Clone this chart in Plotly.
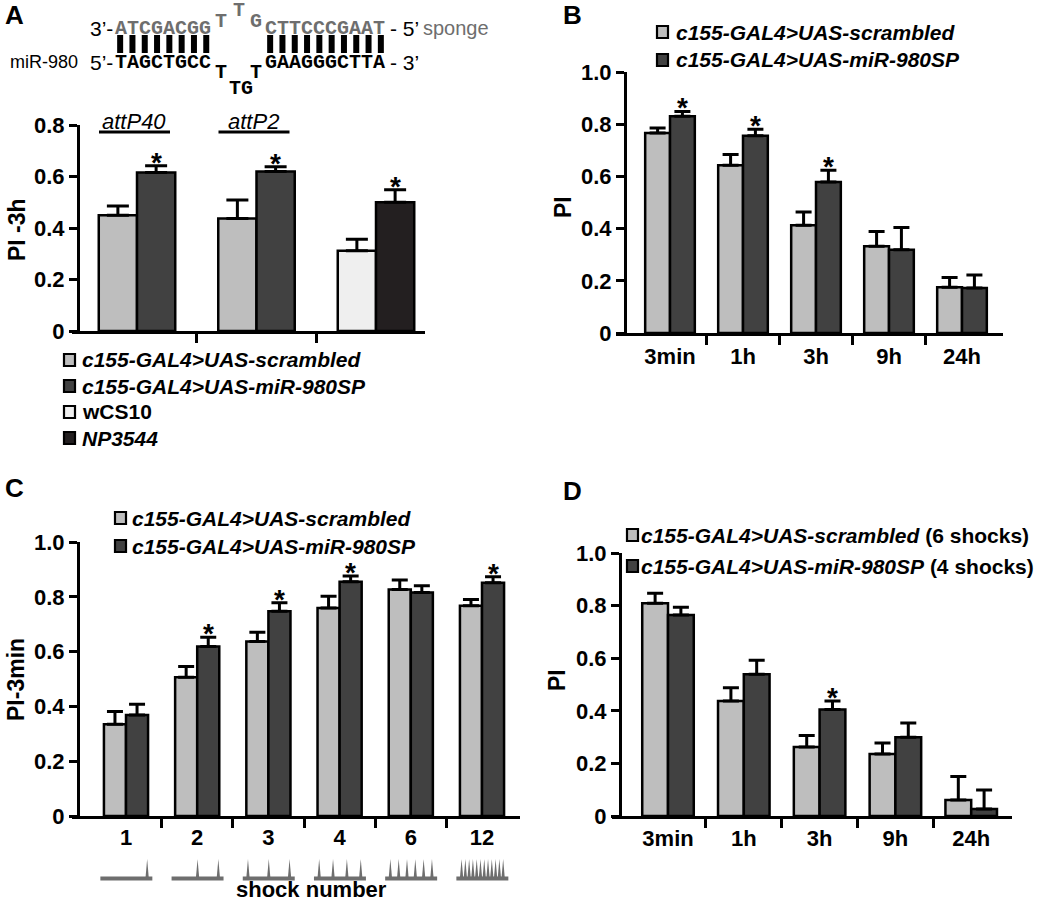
import plotly.graph_objects as go

W, H = 1050, 904
FONT = "Arial, Liberation Sans, Helvetica, sans-serif"
MONO = "Courier New, Liberation Mono, monospace"
LIGHT = "#bebebe"
DARK = "#414141"
WCS_COL = "#efefef"
NP_COL = "#231f20"
SEQ_GRAY = "#6e6e6e"
SHOCK_GRAY = "#6e6e6e"


def px(x):
    return x / W


def py(y):
    return 1 - y / H


# ---------------- data ----------------
# Panel A (PI -3h)
a_groups = ["attP40", "attP2"]
a_scrambled = [0.450, 0.437]
a_scrambled_err = [0.035, 0.072]
a_sponge = [0.616, 0.619]
a_sponge_err = [0.026, 0.019]
a_wcs10 = [0.312]
a_wcs10_err = [0.044]
a_np3544 = [0.500]
a_np3544_err = [0.049]
a_yticks = [0, 0.2, 0.4, 0.6, 0.8]
a_yticklabels = ["0", "0.2", "0.4", "0.6", "0.8"]

# Panel B (PI over time)
b_times = ["3min", "1h", "3h", "9h", "24h"]
b_scrambled = [0.766, 0.643, 0.413, 0.332, 0.175]
b_scrambled_err = [0.019, 0.041, 0.051, 0.057, 0.038]
b_sponge = [0.830, 0.756, 0.579, 0.319, 0.172]
b_sponge_err = [0.019, 0.025, 0.045, 0.085, 0.050]
b_sig = [True, True, True, False, False]

# Panel C (PI-3min vs shock number)
c_shocks = ["1", "2", "3", "4", "6", "12"]
c_scrambled = [0.335, 0.506, 0.637, 0.759, 0.827, 0.767]
c_scrambled_err = [0.046, 0.040, 0.034, 0.043, 0.034, 0.023]
c_sponge = [0.369, 0.619, 0.747, 0.855, 0.816, 0.851]
c_sponge_err = [0.039, 0.033, 0.031, 0.021, 0.024, 0.022]
c_sig = [False, True, True, True, False, True]

# Panel D (PI over time, 6 vs 4 shocks)
d_times = ["3min", "1h", "3h", "9h", "24h"]
d_scrambled = [0.809, 0.437, 0.262, 0.236, 0.061]
d_scrambled_err = [0.038, 0.051, 0.044, 0.042, 0.089]
d_sponge = [0.764, 0.539, 0.405, 0.299, 0.027]
d_sponge_err = [0.030, 0.053, 0.032, 0.055, 0.072]
d_sig = [False, False, True, False, False]

y1_ticks = [0, 0.2, 0.4, 0.6, 0.8, 1.0]
y1_labels = ["0", "0.2", "0.4", "0.6", "0.8", "1.0"]

# ---------------- figure ----------------
fig = go.Figure()
annotations = []
shapes = []


def txt(text, x, y, size, color="black", family=FONT, xanchor="left",
        yanchor="middle", angle=0, xref="paper", yref="paper", yshift=0):
    annotations.append(dict(
        text=text, x=x if xref != "paper" else px(x),
        y=y if yref != "paper" else py(y), xref=xref, yref=yref,
        xanchor=xanchor, yanchor=yanchor, showarrow=False, textangle=angle,
        font=dict(family=family, size=size, color=color), yshift=yshift))


def bars(xs, ys, err, color, w, off, xa, ya, cap):
    fig.add_trace(go.Bar(
        x=xs, y=ys, width=w, offset=off, xaxis=xa, yaxis=ya,
        marker=dict(color=color, line=dict(color="black", width=2.5)),
        error_y=dict(type="data", symmetric=False, array=err,
                     arrayminus=[0] * len(err), color="black",
                     thickness=3, width=cap),
        showlegend=False, hoverinfo="skip"))


def stars(xs, tops, xa, ya):
    for x, t in zip(xs, tops):
        annotations.append(dict(
            text="<b>*</b>", x=x, y=t, xref=xa, yref=ya, xanchor="center",
            yanchor="bottom", showarrow=False, yshift=-14,
            font=dict(family=FONT, size=28, color="black")))


layout_axes = {}


def panel(xa, ya, xl, xr, c0, sp, y0, yt, ymax, ypos, labels, n, yticks, ylabels,
          standoff=0):
    xkey = "xaxis" + xa[1:]
    ykey = "yaxis" + ya[1:]
    layout_axes[xkey] = dict(
        domain=[px(xl), px(xr)], range=[(xl - c0) / sp, (xr - c0) / sp],
        anchor=ya, showline=True, linewidth=3, linecolor="black",
        showgrid=False, zeroline=False, tickmode="array", automargin=False,
        tickvals=list(range(n)), ticktext=labels, ticks="",
        ticklabelstandoff=standoff, fixedrange=True,
        tickfont=dict(family=FONT, size=22, color="black", weight="bold"),
        minor=dict(tickmode="array", tickvals=[i + 0.5 for i in range(n - 1)],
                   ticks="outside", ticklen=9, tickwidth=3, tickcolor="black"))
    layout_axes[ykey] = dict(
        domain=[py(y0), py(yt)], range=[0, ymax], anchor="free", automargin=False,
        position=px(ypos), showline=True, linewidth=3, linecolor="black",
        ticks="outside", ticklen=8, tickwidth=3, tickcolor="black",
        tickmode="array", tickvals=yticks, ticktext=ylabels,
        showgrid=False, zeroline=False, fixedrange=True,
        tickfont=dict(family=FONT, size=22, color="black", weight="bold"))


def legend(xsq, ys, xtext, items, size=21):
    for (label, color), y in zip(items, ys):
        shapes.append(dict(type="rect", xref="paper", yref="paper",
                           x0=px(xsq), x1=px(xsq + 11), y0=py(y + 6), y1=py(y - 6),
                           fillcolor=color, line=dict(color="black", width=2.2)))
        txt(label, xtext, y, size)


# ----- Panel A -----
wA = 0.32
panel("x", "y", 72, 425, 137, 119.5, 331, 125, 0.8, 78, ["", "", ""], 3,
      a_yticks, a_yticklabels)
ia = list(range(len(a_groups)))
bars(ia, a_scrambled, a_scrambled_err, LIGHT, wA, -wA, "x", "y", 11)
bars(ia, a_sponge, a_sponge_err, DARK, wA, 0, "x", "y", 11)
bars([len(a_groups)], a_wcs10, a_wcs10_err, WCS_COL, wA, -wA, "x", "y", 11)
bars([len(a_groups)], a_np3544, a_np3544_err, NP_COL, wA, 0, "x", "y", 11)
stars([i + wA / 2 for i in ia] + [len(a_groups) + wA / 2],
      [v + e for v, e in zip(a_sponge, a_sponge_err)] + [a_np3544[0] + a_np3544_err[0]],
      "x", "y")
for i, g in enumerate(a_groups):
    cx = 137 + 119.5 * i
    txt("<i>%s</i>" % g, cx - 3, 121, 22, xanchor="center")
    shapes.append(dict(type="line", xref="paper", yref="paper",
                       x0=px(cx - 38), x1=px(cx + 33), y0=py(132), y1=py(132),
                       line=dict(color="black", width=3)))
txt("<b>PI -3h</b>", 17, 230, 23, xanchor="center", angle=-90)
legend(64, [360, 386, 412, 438], 80, [
    ("<b><i>c155-GAL4>UAS-scrambled</i></b>", LIGHT),
    ("<b><i>c155-GAL4>UAS-miR-980SP</i></b>", DARK),
    ("<b>wCS10</b>", WCS_COL),
    ("<b><i>NP3544</i></b>", NP_COL)])

# sequence diagram
top_left = "ATCGACGG"
top_right = "CTTCCCGAAT"
bot_left = "TAGCTGCC"
bot_right = "GAAGGGCTTA"
CW = 12.3
txt("3’-", 88, 28, 21)
txt("<b>%s</b>" % top_left, 113, 29, 20, color=SEQ_GRAY, family=MONO)
txt("<b>T</b>", 221, 22, 20, color=SEQ_GRAY, family=MONO, xanchor="center")
txt("<b>T</b>", 239, 11, 20, color=SEQ_GRAY, family=MONO, xanchor="center")
txt("<b>G</b>", 256, 22, 20, color=SEQ_GRAY, family=MONO, xanchor="center")
txt("<b>%s</b>" % top_right, 263, 29, 20, color=SEQ_GRAY, family=MONO)
txt("- 5’", 388, 28, 21)
txt("sponge", 421, 28, 20, color=SEQ_GRAY)
txt("miR-980", 80, 62, 18, xanchor="right")
txt("5’-", 88, 62, 21)
txt("<b>%s</b>" % bot_left, 113, 63, 20, family=MONO)
txt("<b>T</b>", 221, 72, 20, family=MONO, xanchor="center")
txt("<b>TG</b>", 241, 88, 20, family=MONO, xanchor="center")
txt("<b>T</b>", 256, 72, 20, family=MONO, xanchor="center")
txt("<b>%s</b>" % bot_right, 263, 63, 20, family=MONO)
txt("- 3’", 388, 62, 21)
for start, seq in ((114, bot_left), (264, bot_right)):
    for k in range(len(seq)):
        cx = start + CW / 2 + CW * k
        shapes.append(dict(type="rect", xref="paper", yref="paper",
                           x0=px(cx - 3), x1=px(cx + 3), y0=py(53), y1=py(35),
                           fillcolor="black", line=dict(width=0)))

# ----- Panel B -----
wB = 0.34
panel("x2", "y2", 616, 1003, 670, 73, 333, 72, 1.0, 625, b_times, len(b_times),
      y1_ticks, y1_labels, standoff=2)
ib = list(range(len(b_times)))
bars(ib, b_scrambled, b_scrambled_err, LIGHT, wB, -wB, "x2", "y2", 8)
bars(ib, b_sponge, b_sponge_err, DARK, wB, 0, "x2", "y2", 8)
stars([i + wB / 2 for i in ib if b_sig[i]],
      [b_sponge[i] + b_sponge_err[i] for i in ib if b_sig[i]], "x2", "y2")
txt("<b>PI</b>", 563, 207, 23, xanchor="center", angle=-90)
legend(657, [32, 60], 674, [
    ("<b><i>c155-GAL4>UAS-scrambled</i></b>", LIGHT),
    ("<b><i>c155-GAL4>UAS-miR-980SP</i></b>", DARK)])

# ----- Panel C -----
wC = 0.31
panel("x3", "y3", 72, 520, 126, 71.2, 816, 542, 1.0, 78, c_shocks, len(c_shocks),
      y1_ticks, y1_labels)
ic = list(range(len(c_shocks)))
bars(ic, c_scrambled, c_scrambled_err, LIGHT, wC, -wC, "x3", "y3", 8)
bars(ic, c_sponge, c_sponge_err, DARK, wC, 0, "x3", "y3", 8)
stars([i + wC / 2 for i in ic if c_sig[i]],
      [c_sponge[i] + c_sponge_err[i] for i in ic if c_sig[i]], "x3", "y3")
txt("<b>PI-3min</b>", 16, 680, 23, xanchor="center", angle=-90)
legend(115, [518, 546], 130, [
    ("<b><i>c155-GAL4>UAS-scrambled</i></b>", LIGHT),
    ("<b><i>c155-GAL4>UAS-miR-980SP</i></b>", DARK)])
# shock protocol glyphs
for i, s in enumerate(c_shocks):
    n = int(s)
    shapes.append(dict(type="rect", xref="x3", yref="paper",
                       x0=i - 0.36, x1=i + 0.37, y0=py(880.5), y1=py(876.5),
                       fillcolor=SHOCK_GRAY, line=dict(width=0)))
    step = 0.8 / max(n - 1, 2)
    for k in range(n):
        u = 0.9 - k * step
        xs = i - 0.36 + u * 0.73
        shapes.append(dict(type="path", xref="x3", yref="paper",
                           path="M %f,%f L %f,%f L %f,%f Z" % (
                               xs - 0.022, py(877), xs, py(859), xs + 0.022, py(877)),
                           fillcolor=SHOCK_GRAY, line=dict(width=0)))
txt("<b>shock number</b>", 311, 904, 22, xanchor="center", yanchor="bottom")

# ----- Panel D -----
wD = 0.34
panel("x4", "y4", 612, 1012, 668, 75.8, 816, 553, 1.0, 620, d_times, len(d_times),
      y1_ticks, y1_labels, standoff=1)
idd = list(range(len(d_times)))
bars(idd, d_scrambled, d_scrambled_err, LIGHT, wD, -wD, "x4", "y4", 8)
bars(idd, d_sponge, d_sponge_err, DARK, wD, 0, "x4", "y4", 8)
stars([i + wD / 2 for i in idd if d_sig[i]],
      [d_sponge[i] + d_sponge_err[i] for i in idd if d_sig[i]], "x4", "y4")
txt("<b>PI</b>", 557, 680, 23, xanchor="center", angle=-90)
legend(627, [535, 566], 639, [
    ("<b><i>c155-GAL4>UAS-scrambled</i></b> <b>(6 shocks)</b>", LIGHT),
    ("<b><i>c155-GAL4>UAS-miR-980SP</i></b> <b>(4 shocks)</b>", DARK)])

# panel letters
for letter, x, y in (("A", 14, 15), ("B", 572, 15), ("C", 14, 488), ("D", 572, 491)):
    txt("<b>%s</b>" % letter, x, y, 26, xanchor="center")

fig.update_layout(
    width=W, height=H, autosize=False,
    margin=dict(l=0, r=0, t=0, b=0, pad=0, autoexpand=False),
    paper_bgcolor="white", plot_bgcolor="rgba(0,0,0,0)",
    barmode="overlay", showlegend=False, hovermode=False,
    font=dict(family=FONT, color="black"),
    annotations=annotations, shapes=shapes,
    **layout_axes)

fig.write_html("out.html",
               config={"displayModeBar": False, "staticPlot": True},
               post_script="document.body.style.margin='0px';"
                           "document.body.style.overflow='hidden';")
